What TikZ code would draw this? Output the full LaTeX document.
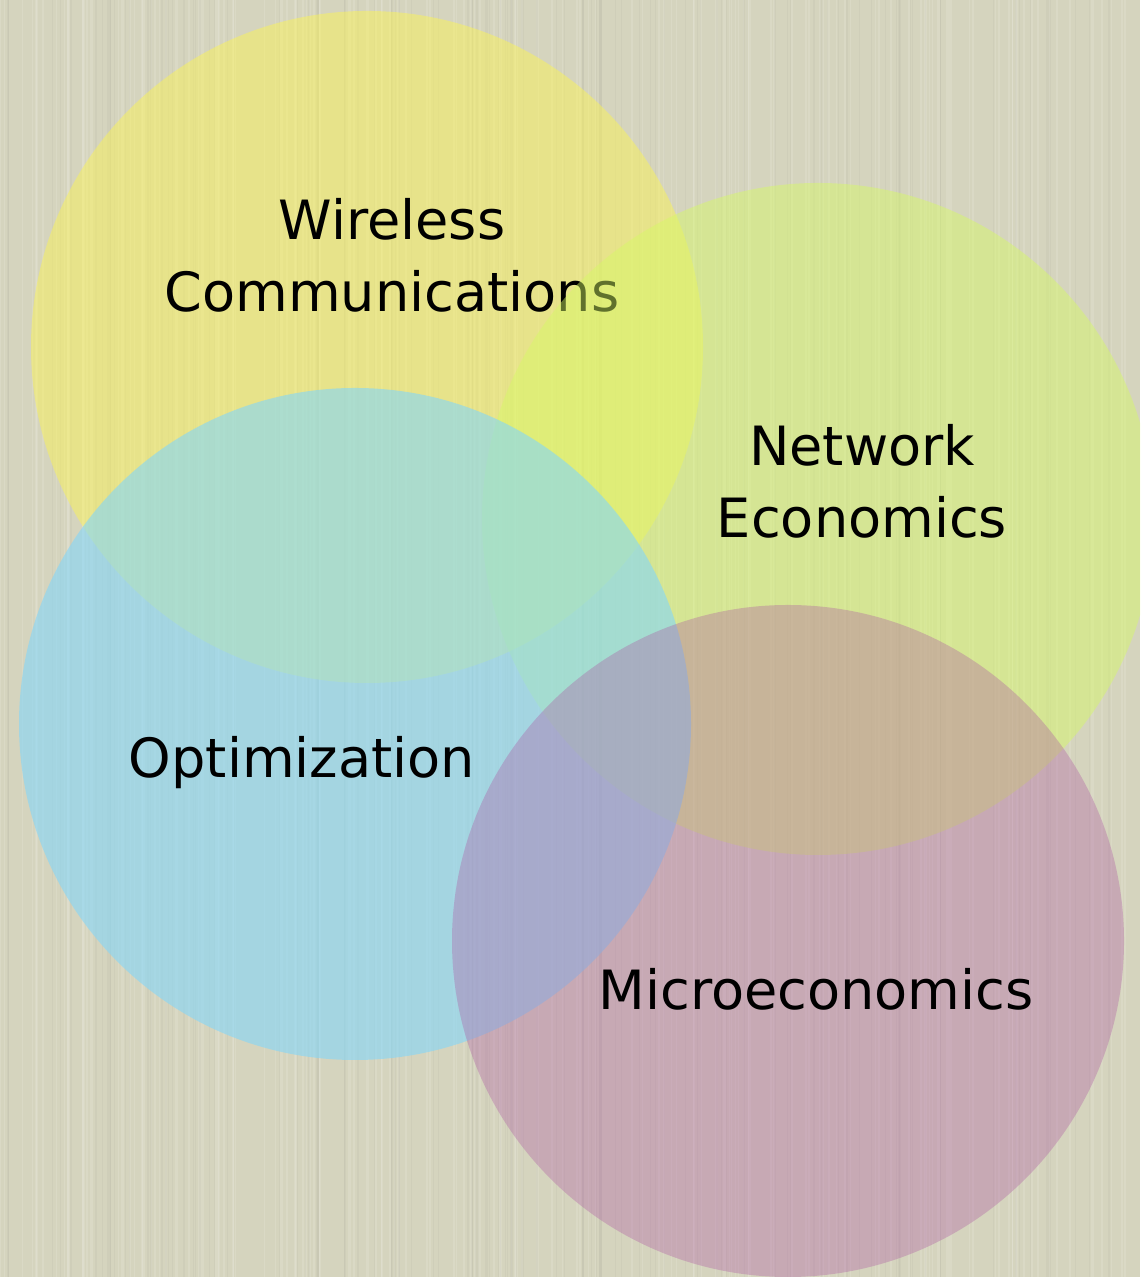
\documentclass[tikz,border=0pt]{standalone}
\usepackage{fontspec}
\setmainfont{DejaVu Sans}
\usepackage{tikz}

\definecolor{paper}{RGB}{213,212,190}
\definecolor{wirelessfill}{RGB}{250,243,88}
\definecolor{networkfill}{RGB}{214,251,99}
\definecolor{optfill}{RGB}{132,215,249}
\definecolor{microfill}{RGB}{174,90,163}

\begin{document}
\begin{tikzpicture}[
        label/.style={font=\fontsize{15.4}{20.5}\selectfont, align=center, text=black}
    ]
        \useasboundingbox (0,0) rectangle (11.40,12.77);
        \clip (0,0) rectangle (11.40,12.77);
        \fill[paper] (0,0) rectangle (11.40,12.77);
        % paper grain
        \pgfmathsetseed{7}
        \foreach \i in {1,...,160} {
            \pgfmathsetmacro{\gx}{11.40*rnd}
            \pgfmathsetmacro{\gw}{0.2+0.5*rnd}
            \draw[white,opacity=0.12,line width=\gw pt] (\gx,0) -- (\gx,12.77);
        }
        \foreach \i in {1,...,120} {
            \pgfmathsetmacro{\gx}{11.40*rnd}
            \pgfmathsetmacro{\gw}{0.2+0.4*rnd}
            \draw[black!60,opacity=0.05,line width=\gw pt] (\gx,0) -- (\gx,12.77);
        }
        % the four fields
        \fill[wirelessfill,fill opacity=0.5] (3.67,9.30) circle (3.36);
        \node[label] (wireless) at (3.92,10.22) {Wireless\\Communications};
        \fill[networkfill,fill opacity=0.45] (8.18,7.58) circle (3.36);
        \node[label] (network) at (8.62,7.955) {Network\\Economics};
        \fill[optfill,fill opacity=0.6] (3.55,5.53) circle (3.36);
        \node[label,anchor=base] (opt) at (3.02,4.99) {Optimization};
        \fill[microfill,fill opacity=0.35] (7.88,3.36) circle (3.36);
        \node[label,anchor=base] (micro) at (8.16,2.67) {Microeconomics};
    \end{tikzpicture}
\end{document}
